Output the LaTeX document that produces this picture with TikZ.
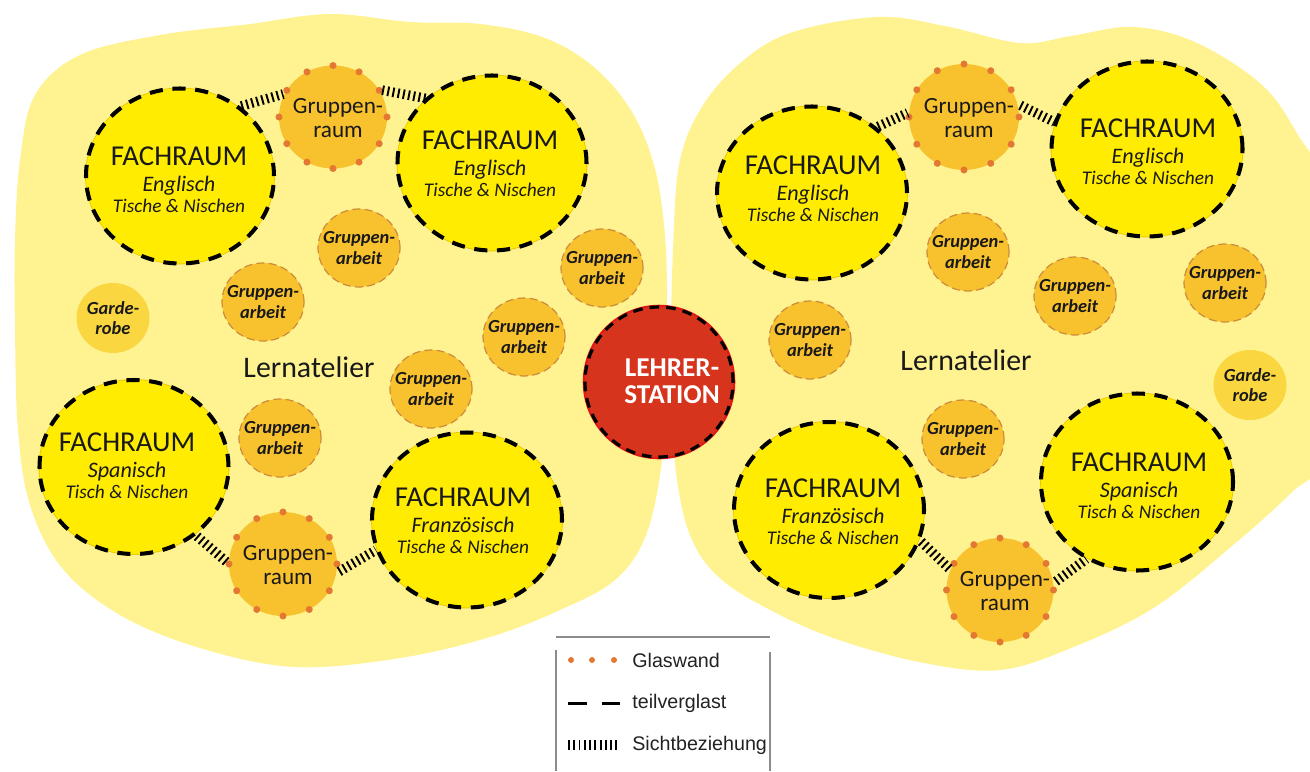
\documentclass[tikz,border=0pt]{standalone}
\usepackage{fontspec}
\setmainfont{Carlito}
\newfontfamily\legfont{Liberation Sans}
\usetikzlibrary{shapes.geometric}
\definecolor{blobc}{RGB}{255,243,145}
\definecolor{fachc}{RGB}{255,236,0}
\definecolor{fachedge}{RGB}{235,200,0}
\definecolor{goldc}{RGB}{248,193,46}
\definecolor{garbc}{RGB}{205,140,60}
\definecolor{gardec}{RGB}{250,214,64}
\definecolor{glasc}{RGB}{228,120,50}
\definecolor{redc}{RGB}{214,52,28}
\definecolor{redborder}{RGB}{225,25,25}
\definecolor{txtc}{RGB}{25,25,25}
\definecolor{leglinec}{RGB}{140,140,140}
\definecolor{legtxt}{RGB}{34,34,34}
\newcommand{\fachtxt}[2]{{\fontsize{16.4}{12}\selectfont FACHRAUM}\\[2.6pt]{\itshape\fontsize{12.6}{12}\selectfont #1}\\{\itshape #2}}
\begin{document}
\begin{tikzpicture}[x=0.02cm,y=-0.02cm,
 fach/.style 2 args={ellipse, fill=fachc, draw=black, line width=2.3pt, dash pattern=on 7.5pt off 5.5pt, minimum width=#1*0.02cm, minimum height=#2*0.02cm, inner sep=0pt, outer sep=0pt, preaction={draw=fachedge, line width=1pt, solid}},
 grr/.style 2 args={ellipse, fill=goldc, minimum width=#1*0.02cm, minimum height=#2*0.02cm, inner sep=0pt, outer sep=0pt},
 garbeit/.style={ellipse, fill=goldc, draw=garbc, line width=0.7pt, dash pattern=on 4.5pt off 2.5pt, minimum width=82*0.02cm, minimum height=78*0.02cm, inner sep=0pt, outer sep=0pt},
 garde/.style={ellipse, fill=gardec, minimum width=73*0.02cm, minimum height=70*0.02cm, inner sep=0pt},
 station/.style={ellipse, fill=redc, draw=black, line width=1.8pt, dash pattern=on 5.5pt off 4pt, minimum width=148*0.02cm, minimum height=150*0.02cm, inner sep=0pt, outer sep=0pt, preaction={draw=redborder, line width=2.6pt, solid}},
 ftxt/.style={align=center, inner sep=0pt, text=txtc, font=\fontsize{11}{12}\selectfont},
 gtxt/.style={align=center, inner sep=0pt, text=txtc, font=\fontsize{13.2}{13.6}\selectfont},
 atxt/.style={align=center, inner sep=0pt, text=txtc, font=\fontsize{10.5}{11.6}\selectfont\bfseries\itshape},
 ltxt/.style={inner sep=0pt, text=txtc, font=\fontsize{17}{20}\selectfont},
 sicht/.style={draw=black, line width=5.5pt, dash pattern=on 1.1pt off 1.9pt, shorten <=2pt, shorten >=1pt},
 glas/.style={fill=glasc},
 leg/.style={anchor=west, inner sep=0pt, text=legtxt, font=\legfont\fontsize{11.2}{13}\selectfont},
 legline/.style={draw=leglinec, line width=0.9pt}
]
\useasboundingbox (0,0) rectangle (1310,771);
\clip (0,0) rectangle (1310,771);
% blobs
\fill[blobc] plot[smooth cycle, tension=0.6] coordinates {
 (20,160) (35,95) (80,55) (160,35) (250,24) (330,14) (410,22) (480,24) (545,38) (595,68) (632,112) (654,165) (664,225) (667,290) (665,380) (662,460) (646,535) (615,580) (560,610) (490,637) (400,658) (295,667) (200,648) (120,615) (62,568) (30,505) (18,430) (15,330) (15,240)};
\fill[blobc] plot[smooth cycle, tension=0.6] coordinates {
 (673,250) (679,165) (700,110) (738,65) (790,33) (877,17) (945,26) (1020,43) (1071,36) (1134,27) (1197,43) (1262,85) (1298,135) (1325,190) (1335,330) (1325,455) (1292,492) (1239,540) (1155,607) (1071,648) (1000,670) (924,663) (839,640) (776,613) (722,580) (692,540) (677,480) (671,400) (671,330)};
% Fachraeume
\node[fach={188}{175}] (fe1) at (180,176) {};
\node[fach={189}{175}] (fe2) at (492,163) {};
\node[fach={189}{174}] (fe3) at (134,467) {};
\node[fach={190}{175}] (fe4) at (467,520) {};
\node[fach={190}{173}] (fe5) at (812,193) {};
\node[fach={191}{175}] (fe6) at (1147,149) {};
\node[fach={190}{176}] (fe7) at (829,510) {};
\node[fach={192}{177}] (fe8) at (1137,482) {};
\node[ftxt] (fe1t) at (179,180) {\fachtxt{Englisch}{Tische \& Nischen}};
\node[ftxt] (fe2t) at (490,164) {\fachtxt{Englisch}{Tische \& Nischen}};
\node[ftxt] (fe3t) at (127,466) {\fachtxt{Spanisch}{Tisch \& Nischen}};
\node[ftxt] (fe4t) at (463,521) {\fachtxt{Franz\"osisch}{Tische \& Nischen}};
\node[ftxt] (fe5t) at (813,189) {\fachtxt{Englisch}{Tische \& Nischen}};
\node[ftxt] (fe6t) at (1148,152) {\fachtxt{Englisch}{Tische \& Nischen}};
\node[ftxt] (fe7t) at (833,512) {\fachtxt{Franz\"osisch}{Tische \& Nischen}};
\node[ftxt] (fe8t) at (1139,486) {\fachtxt{Spanisch}{Tisch \& Nischen}};
% Gruppenraeume
\node[grr={108}{103}] (gr1) at (333,117) {};
\node[grr={108}{104}] (gr2) at (283,564) {};
\node[grr={110}{106}] (gr3) at (964,117) {};
\node[grr={107}{104}] (gr4) at (1000,590) {};
\foreach \n in {gr1,gr2,gr3,gr4}
  \foreach \a in {0,30,...,330}
    \fill[glas] (\n.\a) circle[radius=2pt];
\node[gtxt] (gr1t) at (338,118) {Gruppen-\\raum};
\node[gtxt] (gr2t) at (288,565) {Gruppen-\\raum};
\node[gtxt] (gr3t) at (969,118) {Gruppen-\\raum};
\node[gtxt] (gr4t) at (1005,591) {Gruppen-\\raum};
% Gruppenarbeit
\node[garbeit] (ga1) at (359,248) {};
\node[garbeit] (ga2) at (263,302) {};
\node[garbeit] (ga3) at (602,268) {};
\node[garbeit] (ga4) at (524,337) {};
\node[garbeit] (ga5) at (431,389) {};
\node[garbeit] (ga6) at (280,438) {};
\node[garbeit] (ga7) at (968,252) {};
\node[garbeit] (ga8) at (1075,296) {};
\node[garbeit] (ga9) at (1225,283) {};
\node[garbeit] (ga10) at (810,340) {};
\node[garbeit] (ga11) at (963,439) {};
\foreach \g in {ga1,ga2,ga3,ga4,ga5,ga6,ga7,ga8,ga9,ga10,ga11}
  \node[atxt] (\g t) at (\g) {Gruppen-\\arbeit};
% Garderobe
\node[garde] (gd1) at (113,318) {};
\node[garde] (gd2) at (1250,385) {};
\node[atxt] (gd1t) at (gd1) {Garde-\\robe};
\node[atxt] (gd2t) at (gd2) {Garde-\\robe};
% Lernatelier
\node[ltxt] (la1) at (309,367) {Lernatelier};
\node[ltxt] (la2) at (966,360) {Lernatelier};
% Lehrerstation
\node[station] (ls) at (659,382) {};
\node[align=center, inner sep=0pt, text=white, font=\fontsize{15.5}{15.2}\selectfont\bfseries] (lst) at (672,381) {LEHRER-\\STATION};
% Sichtbeziehungen
\draw[sicht] (fe1.50) -- (gr1.154);
\draw[sicht] (gr1.31) -- (fe2.135);
\draw[sicht] (fe3.312) -- (gr2.180);
\draw[sicht] (gr2.350) -- (fe4.198);
\draw[sicht] (fe5.46) -- (gr3.175);
\draw[sicht] (gr3.14) -- (fe6.164);
\draw[sicht] (fe7.342) -- (gr4.158);
\draw[sicht] (gr4.7) -- (fe8.237);
% Legende
\coordinate (lbA) at (556,637); \coordinate (lbB) at (770,637);
\coordinate (lbC) at (556,650); \coordinate (lbD) at (556,771);
\coordinate (lbE) at (770,652); \coordinate (lbF) at (770,771);
\draw[legline] (lbA) -- (lbB);
\draw[legline] (lbC) -- (lbD);
\draw[legline] (lbE) -- (lbF);
\fill[glas] (571,660) circle[radius=1.7pt];
\fill[glas] (592,660) circle[radius=1.7pt];
\fill[glas] (614,660) circle[radius=1.7pt];
\coordinate (d1a) at (568,703); \coordinate (d1b) at (587,703);
\coordinate (d2a) at (602,703); \coordinate (d2b) at (620,703);
\draw[black, line width=1.7pt] (d1a) -- (d1b);
\draw[black, line width=1.7pt] (d2a) -- (d2b);
\coordinate (h1a) at (568,745); \coordinate (h1b) at (619,745);
\draw[sicht, shorten <=0pt, shorten >=0pt] (h1a) -- (h1b);
\node[leg] (lg1) at (632,660) {Glaswand};
\node[leg] (lg2) at (632,703) {teilverglast};
\node[leg] (lg3) at (632,745) {Sichtbeziehung};
\end{tikzpicture}
\end{document}
